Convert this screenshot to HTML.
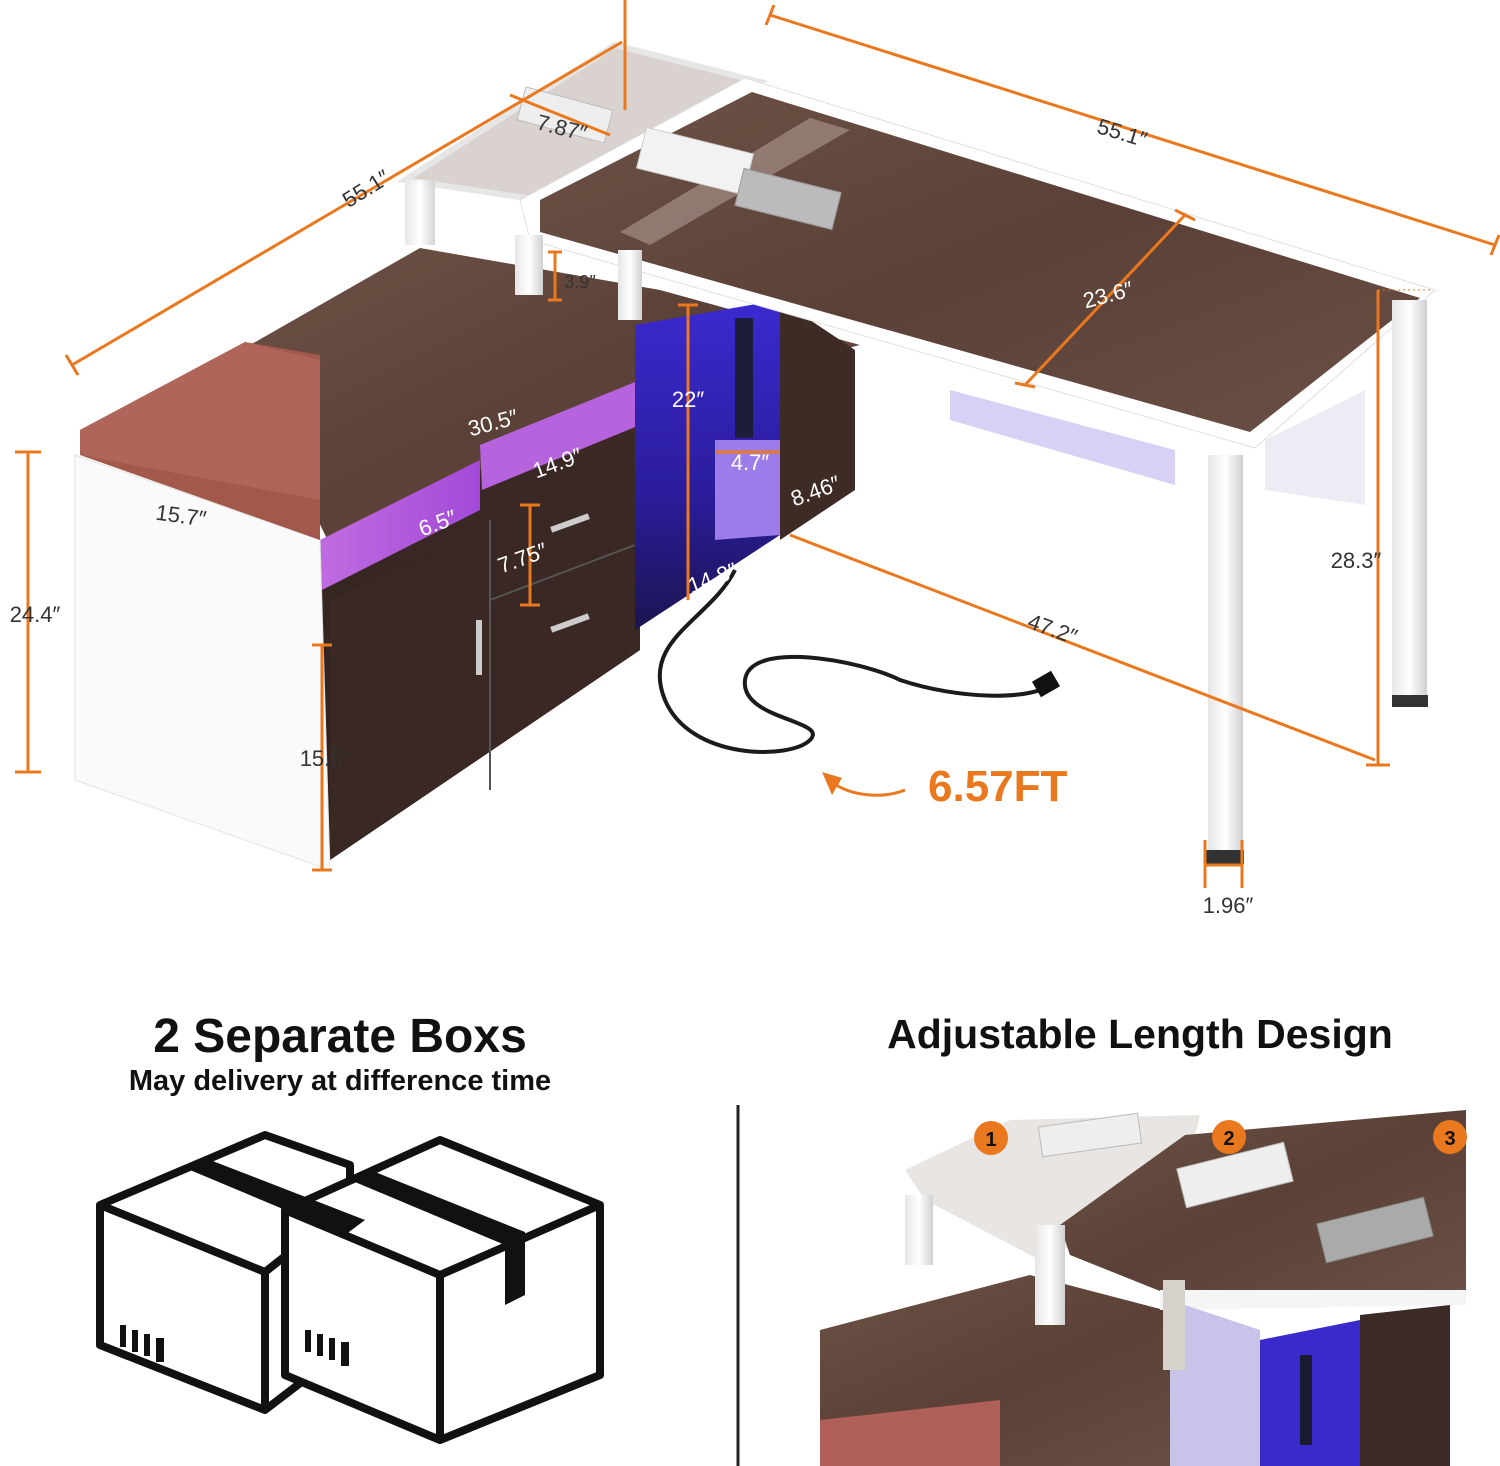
<!DOCTYPE html>
<html><head><meta charset="utf-8"><style>
html,body{margin:0;padding:0;background:#fff}
svg{display:block}
text{font-family:"Liberation Sans","DejaVu Sans",sans-serif}
</style></head><body>
<svg width="1500" height="1466" viewBox="0 0 1500 1466" xmlns="http://www.w3.org/2000/svg">
<defs>
<linearGradient id="wood" x1="0" y1="0" x2="1" y2="1">
<stop offset="0" stop-color="#6e5246"/><stop offset="0.5" stop-color="#5a4036"/><stop offset="1" stop-color="#6a5045"/></linearGradient>
<linearGradient id="dark" x1="0" y1="0" x2="0" y2="1">
<stop offset="0" stop-color="#3d2a26"/><stop offset="1" stop-color="#2d201d"/></linearGradient>
<linearGradient id="glow" x1="0" y1="0" x2="1" y2="0">
<stop offset="0" stop-color="#c06be0"/><stop offset="1" stop-color="#a24ad8"/></linearGradient>
<linearGradient id="blue" x1="0" y1="0" x2="0" y2="1">
<stop offset="0" stop-color="#3b2ad0"/><stop offset="0.6" stop-color="#2a1c9a"/><stop offset="1" stop-color="#1b1550"/></linearGradient>
<linearGradient id="leg" x1="0" y1="0" x2="1" y2="0">
<stop offset="0" stop-color="#e6e6e6"/><stop offset="0.5" stop-color="#ffffff"/><stop offset="1" stop-color="#d0d0d0"/></linearGradient>
</defs>

<!-- translucent extension top -->
<polygon points="405,180 615,45 760,82 540,200" fill="#d9d2cf" stroke="#e6e6e6" stroke-width="6"/>
<rect x="520" y="98" width="90" height="34" fill="#eee" transform="rotate(15 565 115)" stroke="#bbb"/>

<!-- cabinet top -->
<polygon points="250,345 420,248 660,290 860,345 640,400 330,545 250,380" fill="url(#wood)"/>
<!-- cabinet front -->
<polygon points="320,540 640,400 640,650 330,860" fill="url(#dark)"/>
<polygon points="320,540 480,460 480,510 322,590" fill="url(#glow)"/>
<polygon points="480,445 640,380 640,425 482,490" fill="#b664de"/>
<polygon points="330,600 640,470 640,650 330,860" fill="#3a2824"/>
<line x1="490" y1="520" x2="490" y2="790" stroke="#555" stroke-width="2"/>
<line x1="490" y1="600" x2="635" y2="545" stroke="#555" stroke-width="2"/>
<rect x="476" y="620" width="6" height="55" fill="#ccc"/>
<rect x="550" y="520" width="40" height="6" fill="#ccc" transform="rotate(-20 570 523)"/>
<rect x="550" y="620" width="40" height="6" fill="#ccc" transform="rotate(-20 570 623)"/>
<!-- open shelf blue -->
<polygon points="635,325 780,300 780,535 635,630" fill="url(#blue)"/>
<polygon points="715,440 780,440 780,535 715,540" fill="#9b7ce8"/>
<rect x="735" y="318" width="18" height="120" fill="#1c1d3a"/>
<polygon points="780,300 855,350 855,490 780,540" fill="#3e2b26"/>
<!-- seat box -->
<polygon points="75,455 320,540 330,870 75,780" fill="#fafafa" stroke="#e3e3e3"/>
<polygon points="80,430 245,342 320,355 320,540 80,455" fill="#a2584b"/>
<polygon points="80,430 245,342 320,360 320,500 80,455" fill="#b0655a"/>

<!-- desk top main -->
<polygon points="520,200 745,78 1435,290 1255,448 530,240" fill="#fff" stroke="#e0e0e0"/>
<polygon points="540,200 752,92 1420,298 1250,432 540,232" fill="url(#wood)"/>
<polygon points="620,232 810,118 850,130 650,245" fill="#bdaaa2" opacity="0.5"/>
<rect x="640" y="140" width="110" height="42" fill="#f2f2f2" stroke="#ccc" transform="rotate(14 695 161)"/>
<rect x="738" y="180" width="100" height="38" fill="#bbb" stroke="#999" transform="rotate(14 788 199)"/>
<polygon points="950,390 1175,450 1175,485 950,420" fill="#d8d0f5"/>
<polygon points="1265,440 1365,390 1365,505 1265,490" fill="#ececf4"/>
<!-- legs -->
<rect x="1208" y="455" width="35" height="405" fill="url(#leg)"/>
<rect x="1206" y="850" width="38" height="14" fill="#333"/>
<rect x="1392" y="300" width="35" height="400" fill="url(#leg)"/>
<rect x="1392" y="695" width="36" height="12" fill="#333"/>
<rect x="515" y="235" width="28" height="60" fill="url(#leg)"/>
<rect x="405" y="180" width="30" height="65" fill="url(#leg)" opacity="0.9"/>
<rect x="618" y="250" width="24" height="70" fill="url(#leg)"/>
<!-- cord -->
<path d="M735,570 C710,620 640,640 665,700 C690,760 790,760 810,740 C830,720 740,720 745,680 C750,640 860,660 900,680 C960,700 1030,700 1050,685" fill="none" stroke="#1b1b1b" stroke-width="4"/>
<rect x="1035" y="675" width="22" height="18" fill="#111" transform="rotate(-30 1046 684)"/>

<!-- orange dimensions -->
<g stroke="#e9781f" stroke-width="3" fill="none">
<line x1="72" y1="365" x2="622" y2="42"/><line x1="66" y1="355" x2="78" y2="375"/>
<line x1="770" y1="15" x2="1495" y2="245"/><line x1="774" y1="5" x2="766" y2="25"/><line x1="1499" y1="235" x2="1491" y2="255"/>
<line x1="28" y1="452" x2="28" y2="772"/><line x1="15" y1="452" x2="41" y2="452"/><line x1="15" y1="772" x2="41" y2="772"/>
<line x1="1378" y1="290" x2="1378" y2="765"/><line x1="1366" y1="765" x2="1390" y2="765"/>
<line x1="790" y1="535" x2="1375" y2="760"/>
<line x1="1185" y1="215" x2="1025" y2="385"/><line x1="1175" y1="210" x2="1195" y2="220"/><line x1="1015" y1="383" x2="1035" y2="387"/>
<line x1="688" y1="305" x2="688" y2="600"/><line x1="678" y1="305" x2="698" y2="305"/>
<line x1="322" y1="645" x2="322" y2="870"/><line x1="312" y1="645" x2="332" y2="645"/><line x1="312" y1="870" x2="332" y2="870"/>
<line x1="1205" y1="840" x2="1205" y2="888"/><line x1="1242" y1="840" x2="1242" y2="888"/><line x1="1205" y1="865" x2="1242" y2="865"/>
<line x1="555" y1="252" x2="555" y2="300"/><line x1="548" y1="252" x2="562" y2="252"/><line x1="548" y1="300" x2="562" y2="300"/>
<line x1="530" y1="505" x2="530" y2="605"/><line x1="520" y1="505" x2="540" y2="505"/><line x1="520" y1="605" x2="540" y2="605"/>
<line x1="715" y1="452" x2="780" y2="452"/>
<line x1="625" y1="0" x2="625" y2="110"/>
<line x1="510" y1="95" x2="610" y2="135"/>
<path d="M905,790 C880,800 845,795 830,780"/>
</g>
<polygon points="822,772 842,778 832,795" fill="#e9781f"/>
<line x1="1378" y1="290" x2="1430" y2="290" stroke="#e9781f" stroke-width="1" stroke-dasharray="2 3"/>

<g font-size="22" fill="#333">
<text x="370" y="195" transform="rotate(-32 370 195)" text-anchor="middle">55.1″</text>
<text x="560" y="135" transform="rotate(14 560 135)" text-anchor="middle">7.87″</text>
<text x="1120" y="140" transform="rotate(17 1120 140)" text-anchor="middle">55.1″</text>
<text x="1110" y="302" transform="rotate(-15 1110 302)" text-anchor="middle" fill="#fff">23.6″</text>
<text x="580" y="288" text-anchor="middle" font-size="18">3.9″</text>
<text x="180" y="523" transform="rotate(8 180 523)" text-anchor="middle">15.7″</text>
<text x="35" y="622" text-anchor="middle">24.4″</text>
<text x="325" y="766" text-anchor="middle">15.5″</text>
<text x="1356" y="568" text-anchor="middle">28.3″</text>
<text x="1050" y="636" transform="rotate(20 1050 636)" text-anchor="middle">47.2″</text>
<text x="1228" y="913" text-anchor="middle">1.96″</text>
</g>
<g font-size="22" fill="#fff">
<text x="495" y="430" transform="rotate(-15 495 430)" text-anchor="middle">30.5″</text>
<text x="560" y="470" transform="rotate(-20 560 470)" text-anchor="middle">14.9″</text>
<text x="440" y="530" transform="rotate(-20 440 530)" text-anchor="middle">6.5″</text>
<text x="525" y="565" transform="rotate(-20 525 565)" text-anchor="middle">7.75″</text>
<text x="688" y="407" text-anchor="middle">22″</text>
<text x="750" y="470" text-anchor="middle">4.7″</text>
<text x="715" y="585" transform="rotate(-20 715 585)" text-anchor="middle">14.8″</text>
<text x="818" y="498" transform="rotate(-20 818 498)" text-anchor="middle">8.46″</text>
</g>
<text x="928" y="801" font-size="44" font-weight="bold" fill="#e9781f">6.57FT</text>

<!-- bottom -->
<text x="340" y="1052" font-size="48" font-weight="bold" fill="#111" text-anchor="middle">2 Separate Boxs</text>
<text x="340" y="1090" font-size="29" font-weight="bold" fill="#111" text-anchor="middle">May delivery at difference time</text>
<text x="1140" y="1048" font-size="41" font-weight="bold" fill="#111" text-anchor="middle">Adjustable Length Design</text>
<line x1="738" y1="1105" x2="738" y2="1466" stroke="#222" stroke-width="3"/>

<g stroke="#111" stroke-width="8" fill="#fff" stroke-linejoin="round">
<polygon points="100,1205 265,1135 350,1165 350,1345 265,1410 100,1345"/>
<polyline points="100,1205 265,1272 350,1205" fill="none"/>
<line x1="265" y1="1272" x2="265" y2="1410"/>
<polygon points="285,1210 440,1140 600,1205 600,1375 440,1440 285,1375"/>
<polyline points="285,1210 440,1275 600,1205" fill="none"/>
<line x1="440" y1="1275" x2="440" y2="1440"/>
</g>
<polygon points="190,1170 345,1235 365,1220 210,1160" fill="#111"/>
<polygon points="370,1170 525,1232 525,1295 505,1305 505,1245 355,1182" fill="#111"/>
<g fill="#111">
<rect x="120" y="1325" width="6" height="22"/><rect x="132" y="1330" width="6" height="22"/><rect x="144" y="1334" width="6" height="22"/><rect x="156" y="1338" width="8" height="24"/>
<rect x="305" y="1330" width="6" height="22"/><rect x="317" y="1334" width="6" height="22"/><rect x="329" y="1338" width="6" height="22"/><rect x="341" y="1342" width="8" height="24"/>
</g>

<!-- inset photo -->
<g>
<rect x="820" y="1110" width="646" height="356" fill="#fff"/>
<polygon points="820,1330 1030,1275 1260,1335 1260,1466 820,1466" fill="url(#wood)"/>
<polygon points="905,1170 1010,1120 1200,1115 1180,1200 1040,1260 925,1200" fill="#e4dedb" opacity="0.8"/>
<polygon points="1060,1225 1185,1135 1466,1110 1466,1300 1170,1295 1070,1255" fill="url(#wood)"/>
<polygon points="1160,1290 1466,1290 1466,1305 1160,1310" fill="#f5f5f5"/>
<polygon points="1170,1300 1260,1330 1260,1466 1170,1466" fill="#c8c3e8"/>
<polygon points="1260,1340 1360,1320 1360,1466 1260,1466" fill="#3a2acb"/>
<polygon points="1360,1315 1450,1305 1450,1466 1360,1466" fill="#3b2a26"/>
<rect x="1300" y="1355" width="12" height="90" fill="#1a1a30"/>
<polygon points="820,1420 1000,1400 1000,1466 820,1466" fill="#b06058"/>
<rect x="1040" y="1120" width="100" height="30" fill="#eee" stroke="#bbb" transform="rotate(-8 1090 1135)"/>
<rect x="1180" y="1155" width="110" height="40" fill="#eee" stroke="#bbb" transform="rotate(-14 1235 1175)"/>
<rect x="1320" y="1210" width="110" height="40" fill="#aaa" stroke="#888" transform="rotate(-14 1375 1230)"/>
<rect x="905" y="1195" width="28" height="70" fill="url(#leg)"/>
<rect x="1035" y="1225" width="30" height="100" fill="url(#leg)"/>
<rect x="1163" y="1280" width="22" height="90" fill="#d7d1cc"/>
<circle cx="991" cy="1138" r="17" fill="#e9781f"/><text x="991" y="1146" font-size="20" font-weight="bold" fill="#111" text-anchor="middle">1</text>
<circle cx="1229" cy="1137" r="17" fill="#e9781f"/><text x="1229" y="1145" font-size="20" font-weight="bold" fill="#111" text-anchor="middle">2</text>
<circle cx="1450" cy="1137" r="17" fill="#e9781f"/><text x="1450" y="1145" font-size="20" font-weight="bold" fill="#111" text-anchor="middle">3</text>
</g>
</svg>
</body></html>
